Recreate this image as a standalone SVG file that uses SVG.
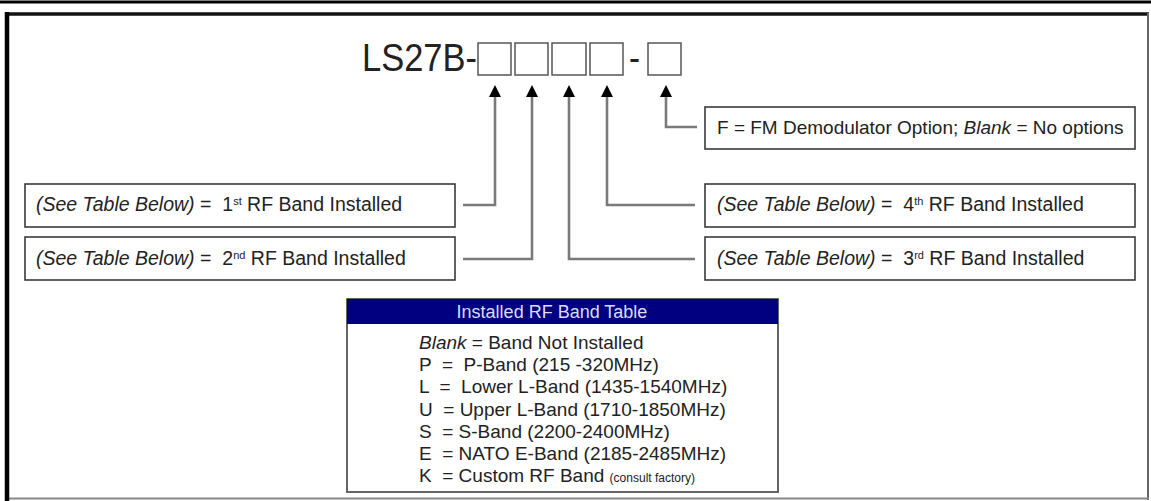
<svg xmlns="http://www.w3.org/2000/svg" width="1151" height="501" viewBox="0 0 1151 501">
<style>
text{font-family:"Liberation Sans",Arial,sans-serif;fill:#222;white-space:pre}
.lbl{font-size:19.5px}
.fm{font-size:19px}
.tb{font-size:19px}
.it{font-style:italic}
.box{fill:#fff;stroke:#3a3a3a;stroke-width:1.6}
.slot{fill:#fff;stroke:#555;stroke-width:1.5}
.con{fill:none;stroke:#7a7a7a;stroke-width:2.6}
</style>
<defs>
<marker id="ah" viewBox="0 0 12 12" markerWidth="12" markerHeight="12" markerUnits="userSpaceOnUse" refX="1" refY="6" orient="auto">
<path d="M0,0 L12,6 L0,12 z" fill="#000"/>
</marker>
</defs>
<rect width="1151" height="501" fill="#fff"/>
<g id="frame">
<line x1="0" y1="2" x2="1151" y2="2" stroke="#000" stroke-width="3"/>
<line x1="5" y1="14" x2="1149" y2="14" stroke="#111" stroke-width="3.5"/>
<line x1="1148" y1="13" x2="1148" y2="500" stroke="#666" stroke-width="2"/>
<line x1="5" y1="498.5" x2="1149" y2="498.5" stroke="#888" stroke-width="2"/>
<line x1="7" y1="12" x2="7" y2="501" stroke="#000" stroke-width="4.5"/>
</g>
<g id="title">
<text x="362" y="71" style="font-size:38px" textLength="115" lengthAdjust="spacingAndGlyphs">LS27B-</text>
<rect class="slot" x="478" y="43" width="33" height="32"/>
<rect class="slot" x="515" y="43" width="33" height="32"/>
<rect class="slot" x="552" y="43" width="34" height="32"/>
<rect class="slot" x="590" y="43" width="33" height="32"/>
<text x="629" y="71" style="font-size:38px" textLength="11" lengthAdjust="spacingAndGlyphs">-</text>
<rect class="slot" x="648" y="43" width="33" height="32"/>
</g>
<g id="connectors">
<path class="con" d="M463,205 H495 V96" marker-end="url(#ah)"/>
<path class="con" d="M463,259 H532 V96" marker-end="url(#ah)"/>
<path class="con" d="M695,259 H569 V96" marker-end="url(#ah)"/>
<path class="con" d="M695,205 H607 V96" marker-end="url(#ah)"/>
<path class="con" d="M697,127 H666 V96" marker-end="url(#ah)"/>
</g>
<g id="fm">
<rect class="box" x="705" y="107" width="430" height="42"/>
<text class="fm" x="717" y="134">F = FM Demodulator Option; <tspan class="it">Blank</tspan> = No options</text>
</g>
<g id="band1">
<rect class="box" x="25" y="184" width="430" height="43"/>
<text class="lbl" x="36" y="211"><tspan class="it">(See Table Below)</tspan> =  1<tspan dy="-6" style="font-size:11px">st</tspan><tspan dy="6"> RF Band Installed</tspan></text>
</g>
<g id="band2">
<rect class="box" x="25" y="237" width="430" height="43"/>
<text class="lbl" x="36" y="265"><tspan class="it">(See Table Below)</tspan> =  2<tspan dy="-6" style="font-size:11px">nd</tspan><tspan dy="6"> RF Band Installed</tspan></text>
</g>
<g id="band4">
<rect class="box" x="705" y="184" width="430" height="43"/>
<text class="lbl" x="717" y="211"><tspan class="it">(See Table Below)</tspan> =  4<tspan dy="-6" style="font-size:11px">th</tspan><tspan dy="6"> RF Band Installed</tspan></text>
</g>
<g id="band3">
<rect class="box" x="705" y="237" width="430" height="43"/>
<text class="lbl" x="717" y="265"><tspan class="it">(See Table Below)</tspan> =  3<tspan dy="-6" style="font-size:11px">rd</tspan><tspan dy="6"> RF Band Installed</tspan></text>
</g>
<g id="table">
<rect x="347" y="299" width="431" height="193" fill="#fff" stroke="#555" stroke-width="1.8"/>
<rect x="347" y="299" width="431" height="25" fill="#000080"/>
<text x="552" y="318" text-anchor="middle" style="font-size:18px;fill:#dcdcff">Installed RF Band Table</text>
<text class="tb" x="419" y="349"><tspan class="it">Blank</tspan> = Band Not Installed</text>
<text class="tb" x="419" y="371">P  =  P-Band (215 -320MHz)</text>
<text class="tb" x="419" y="393">L  =  Lower L-Band (1435-1540MHz)</text>
<text class="tb" x="419" y="416">U  = Upper L-Band (1710-1850MHz)</text>
<text class="tb" x="419" y="438">S  = S-Band (2200-2400MHz)</text>
<text class="tb" x="419" y="460">E  = NATO E-Band (2185-2485MHz)</text>
<text class="tb" x="419" y="482">K  = Custom RF Band <tspan style="font-size:12px">(consult factory)</tspan></text>
</g>
</svg>
